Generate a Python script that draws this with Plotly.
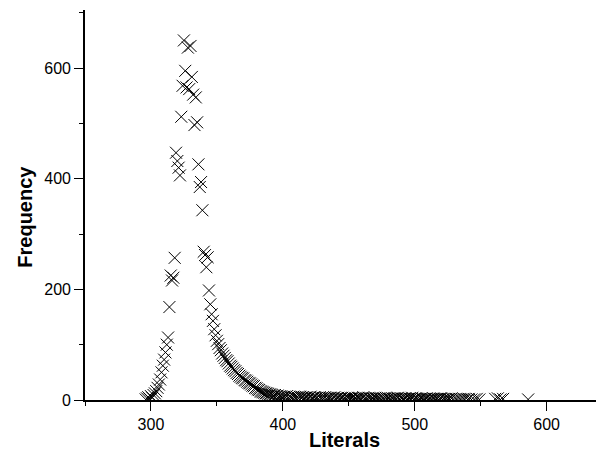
import plotly.graph_objects as go

# Number of literals (x) and how often each occurs (y)
literals = [
    296, 297, 298, 299, 300, 301, 302, 303, 304, 305, 306, 307, 308, 309, 310,
    311, 312, 313, 314, 315, 316, 317, 318, 319, 320, 321, 322, 323, 324, 325,
    326, 327, 328, 329, 330, 331, 332, 333, 334, 335, 336, 337, 338, 339, 340,
    341, 342, 343, 344, 345, 346, 347, 348, 349, 350, 351, 352, 353, 354, 355,
    356, 357, 358, 359, 360, 361, 362, 363, 364, 365, 366, 367, 368, 369, 370,
    371, 372, 373, 374, 375, 376, 377, 378, 379, 380, 381, 382, 383, 384, 385,
    386, 387, 388, 389, 390, 391, 392, 393, 394, 395, 396, 397, 398, 399, 400,
    401, 402, 403, 404, 405, 406, 407, 408, 409, 410, 411, 412, 413, 414, 415,
    416, 417, 418, 419, 420, 421, 422, 423, 424, 425, 426, 427, 428, 429, 430,
    431, 432, 433, 434, 435, 436, 437, 438, 439, 440, 441, 442, 443, 444, 445,
    446, 447, 448, 449, 450, 451, 452, 453, 454, 455, 456, 457, 458, 459, 460,
    461, 462, 463, 464, 465, 466, 467, 468, 469, 470, 471, 472, 473, 474, 475,
    476, 477, 478, 479, 480, 481, 482, 483, 484, 485, 486, 487, 488, 489, 490,
    491, 492, 493, 494, 495, 496, 497, 498, 499, 500, 501, 502, 503, 504, 505,
    506, 507, 508, 509, 510, 511, 512, 513, 514, 515, 516, 517, 518, 519, 520,
    521, 522, 523, 524, 525, 526, 527, 528, 529, 531, 532, 534, 535, 537, 538,
    540, 541, 543, 545, 547, 549, 561, 563, 565, 567, 586,
]
frequency = [
    1, 3, 5, 2, 7, 4, 9, 12, 16, 22, 28, 37, 50, 62, 73,
    86, 100, 113, 168, 225, 216, 221, 257, 447, 432, 420, 406, 512, 568, 650,
    595, 565, 637, 562, 640, 584, 552, 497, 547, 502, 426, 385, 394, 343, 268,
    262, 240, 258, 198, 173, 155, 143, 128, 117, 107, 101, 94, 90, 84, 80,
    76, 72, 70, 66, 62, 60, 57, 54, 52, 49, 47, 44, 42, 40, 39,
    36, 35, 33, 31, 30, 28, 26, 25, 22, 21, 19, 18, 16, 15, 14,
    13, 12, 12, 11, 10, 10, 9, 8, 9, 7, 8, 6, 7, 6, 5,
    6, 5, 7, 4, 6, 5, 4, 6, 5, 4, 5, 3, 6, 4, 5,
    3, 4, 5, 3, 4, 6, 3, 4, 5, 3, 4, 2, 5, 3, 4,
    3, 5, 2, 4, 3, 4, 2, 3, 5, 2, 3, 4, 2, 3, 4,
    2, 3, 2, 4, 3, 2, 3, 4, 2, 3, 2, 4, 3, 2, 3,
    5, 2, 3, 2, 4, 3, 2, 3, 2, 4, 3, 2, 3, 2, 1,
    3, 2, 4, 2, 3, 2, 1, 3, 2, 3, 2, 4, 2, 1, 3,
    2, 2, 3, 1, 2, 3, 2, 4, 1, 2, 3, 2, 1, 2, 3,
    2, 1, 2, 3, 1, 2, 2, 1, 3, 2, 1, 2, 1, 2, 3,
    1, 2, 1, 2, 1, 2, 1, 3, 1, 2, 1, 2, 1, 2, 1,
    1, 2, 1, 1, 2, 1, 2, 3, 1, 2, 1,
]

x_major_ticks = [300, 400, 500, 600]
y_major_ticks = [0, 200, 400, 600]

FONT = "Arial, 'Liberation Sans', sans-serif"

fig = go.Figure(
    go.Scatter(
        x=literals,
        y=frequency,
        mode="markers",
        marker=dict(symbol="x-thin-open", size=12, color="black",
                    line=dict(width=1, color="black")),
        showlegend=False,
    )
)

axis_common = dict(
    showgrid=False,
    zeroline=False,
    showline=True,
    linecolor="black",
    linewidth=1.6,
    ticks="outside",
    ticklen=9,
    tickwidth=1.4,
    tickcolor="black",
    tickfont=dict(family=FONT, size=16, color="black"),
    title_font=dict(family=FONT, size=20, color="black"),
)

fig.update_xaxes(
    **axis_common,
    range=[250, 643.5],
    tickvals=x_major_ticks,
    ticktext=[str(v) for v in x_major_ticks],
    minor=dict(dtick=50, tick0=250, ticks="outside", ticklen=4,
               tickwidth=1.4, tickcolor="black", showgrid=False),
    title_text="<b>Literals</b>",
    title_standoff=1,
)
fig.update_yaxes(
    **axis_common,
    range=[0, 705],
    tickvals=y_major_ticks,
    ticktext=[str(v) for v in y_major_ticks],
    minor=dict(dtick=100, tick0=0, ticks="outside", ticklen=4,
               tickwidth=1.4, tickcolor="black", showgrid=False),
)

fig.add_annotation(
    text="<b>Frequency</b>",
    xref="paper", yref="paper",
    x=0, y=0.47,
    xshift=-60,
    xanchor="center", yanchor="middle",
    textangle=-90,
    showarrow=False,
    font=dict(family=FONT, size=20, color="black"),
)

# The page body adds an 8 px margin, so the figure is sized to fill the
# remaining part of the 604x463 window.
fig.update_layout(
    width=596,
    height=455,
    margin=dict(l=77, r=0, t=2, b=63),
    plot_bgcolor="white",
    paper_bgcolor="white",
    font=dict(family=FONT, color="black"),
)

fig.write_html("out.html")
